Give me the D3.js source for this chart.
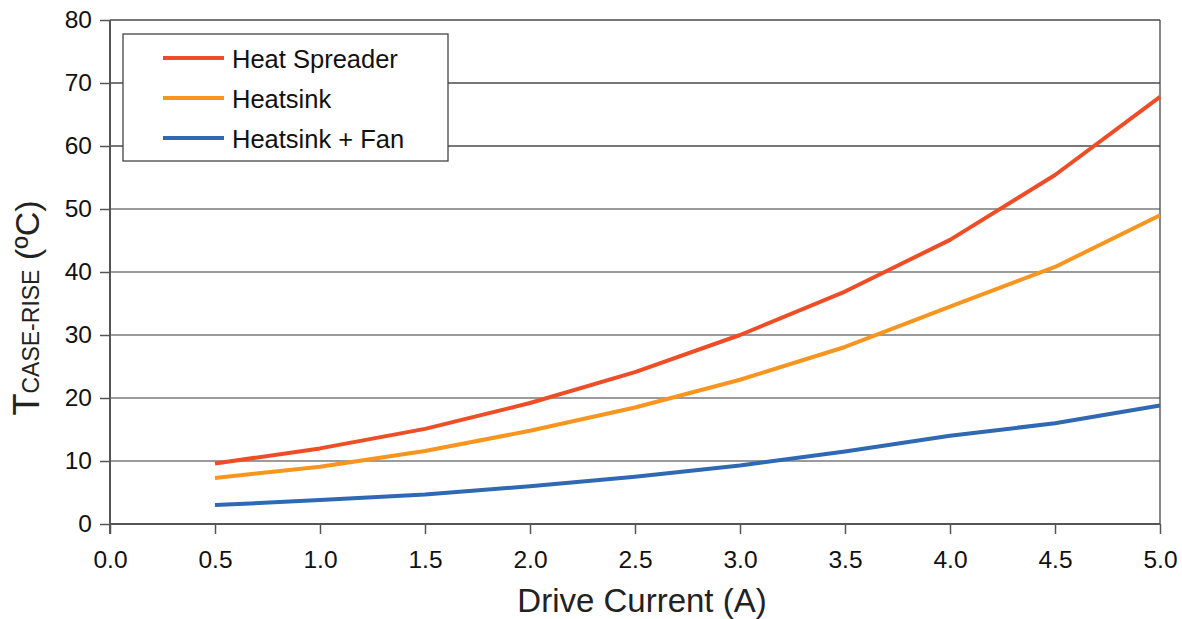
<!DOCTYPE html>
<html>
<head>
<meta charset="utf-8">
<script src="https://cdn.jsdelivr.net/npm/d3@7"></script>
<style>
  body { margin: 0; background: #fff; }
  text { font-family: "Liberation Sans", Arial, sans-serif; fill: #111; }
</style>
</head>
<body>
<div id="chart"></div>
<script>
const width = 1182;
const height = 619;

const current = [0.5, 1.0, 1.5, 2.0, 2.5, 3.0, 3.5, 4.0, 4.5, 5.0];
const heatSpreader = [9.6, 12.0, 15.1, 19.2, 24.1, 30.0, 36.9, 45.1, 55.4, 67.8];
const heatsink = [7.3, 9.1, 11.6, 14.8, 18.5, 22.9, 28.1, 34.5, 40.8, 49.0];
const heatsinkFan = [3.0, 3.8, 4.7, 6.0, 7.5, 9.3, 11.5, 14.0, 16.0, 18.8];
const seriesNames = ['Heat Spreader', 'Heatsink', 'Heatsink + Fan'];
const xTicks = [0, 0.5, 1, 1.5, 2, 2.5, 3, 3.5, 4, 4.5, 5];
const yTicks = [0, 10, 20, 30, 40, 50, 60, 70, 80];

const colors = ['#ee4d26', '#f7951f', '#2f68b3'];
const series = [heatSpreader, heatsink, heatsinkFan];

const margin = {left: 110, right: 22, top: 20, bottom: 95};

const svg = d3.select('#chart')
  .append('svg')
  .attr('width', width)
  .attr('height', height);

const x = d3.scaleLinear()
  .domain([0, 5])
  .range([margin.left, width - margin.right]);

const y = d3.scaleLinear()
  .domain([0, 80])
  .range([height - margin.bottom, margin.top]);

// horizontal grid
svg.append('g')
  .selectAll('line')
  .data(yTicks.filter(d => d > 0))
  .enter()
  .append('line')
  .attr('x1', x(0))
  .attr('x2', x(5))
  .attr('y1', d => y(d))
  .attr('y2', d => y(d))
  .style('stroke', d => d >= 60 ? '#4a4a4a' : '#7a7a7a')
  .style('stroke-width', '1.3px');

// right border
svg.append('line')
  .attr('x1', x(5)).attr('x2', x(5))
  .attr('y1', y(80)).attr('y2', y(0))
  .style('stroke', '#444')
  .style('stroke-width', '1.3px');

const xAxis = svg.append('g')
  .attr('transform', `translate(0, ${y(0)})`)
  .call(d3.axisBottom(x).tickValues(xTicks).tickFormat(d3.format('.1f')).tickSize(10).tickPadding(17));

const yAxis = svg.append('g')
  .attr('transform', `translate(${x(0)}, 0)`)
  .call(d3.axisLeft(y).tickValues(yTicks).tickSize(10).tickPadding(8));

[xAxis, yAxis].forEach(a => {
  a.select('.domain').style('stroke', '#555').style('stroke-width', '2px');
  a.selectAll('.tick line').style('stroke', '#555').style('stroke-width', '1.5px');
  a.selectAll('.tick text')
    .style('font-size', '24.5px')
    .style('font-family', '"Liberation Sans", Arial, sans-serif')
    .style('fill', '#111');
});
xAxis.select('.domain').attr('d', `M${x(0)},0H${x(5)}`);
yAxis.select('.domain').attr('d', `M0,${y(80)}V${y(0) + 10}`);

const line = d3.line()
  .x((d, i) => x(current[i]))
  .y(d => y(d));

svg.append('g')
  .selectAll('path')
  .data(series)
  .enter()
  .append('path')
  .attr('d', line)
  .style('fill', 'none')
  .style('stroke', (d, i) => colors[i])
  .style('stroke-width', '4px')
  .style('stroke-linejoin', 'round');

// legend
const legend = svg.append('g').attr('transform', 'translate(123, 34)');
legend.append('rect')
  .attr('width', 325)
  .attr('height', 127)
  .style('fill', '#fff')
  .style('stroke', '#444')
  .style('stroke-width', '1.3px');

const items = legend.selectAll('g.item')
  .data(seriesNames)
  .enter()
  .append('g')
  .attr('transform', (d, i) => `translate(0, ${24 + i * 40})`);

items.append('line')
  .attr('x1', 40).attr('x2', 101)
  .attr('y1', 0).attr('y2', 0)
  .style('stroke', (d, i) => colors[i])
  .style('stroke-width', '4px');

items.append('text')
  .attr('x', 109)
  .attr('y', 10)
  .style('font-size', '25.5px')
  .text(d => d);

// axis titles
svg.append('text')
  .attr('x', 642)
  .attr('y', 612)
  .attr('text-anchor', 'middle')
  .style('font-size', '33px')
  .style('fill', '#222')
  .text('Drive Current (A)');

const yTitle = svg.append('text')
  .attr('transform', `translate(39, 308) rotate(-90)`)
  .attr('text-anchor', 'middle')
  .style('fill', '#222');
yTitle.append('tspan').style('font-size', '36px').text('T');
yTitle.append('tspan').style('font-size', '23px').text('CASE-RISE');
yTitle.append('tspan').style('font-size', '34px').text(' (ºC)');
</script>
</body>
</html>
